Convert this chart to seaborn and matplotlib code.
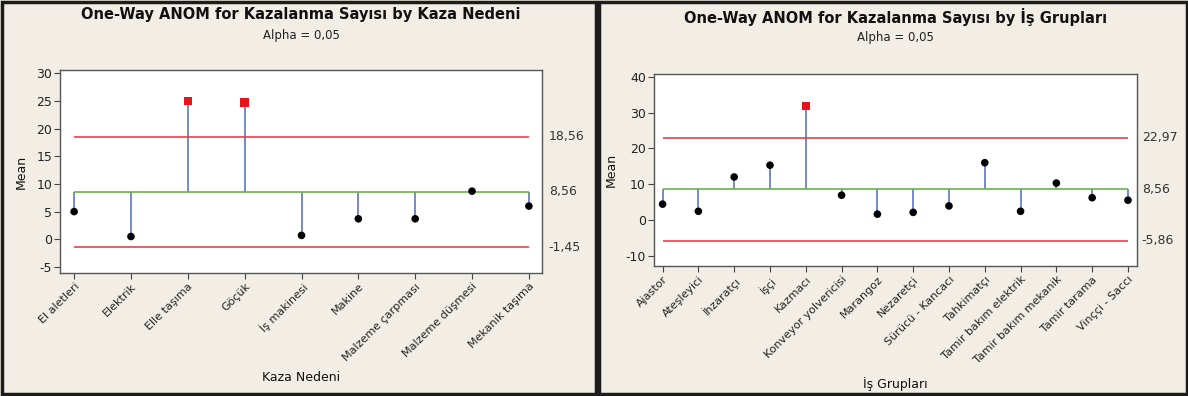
import matplotlib
matplotlib.use("Agg")
import matplotlib.pyplot as plt
from matplotlib.patches import Rectangle
import pandas as pd
import seaborn as sns

# veriler (grafikten okunan ortalamalar)
kaza_nedeni = ["El aletleri", "Elektrik", "Elle taşıma", "Göçük", "İş makinesi",
               "Makine", "Malzeme çarpması", "Malzeme düşmesi", "Mekanik taşıma"]
kaza_means = [5.0, 0.5, 25.0, 24.7, 0.7, 3.7, 3.7, 8.7, 6.0]
kaza_limits = [18.56, 8.56, -1.45]  # UDL, merkez, LDL
kaza_yticks = [-5, 0, 5, 10, 15, 20, 25, 30]

is_gruplari = ["Ajastor", "Ateşleyici", "İhzaratçı", "İşçi", "Kazmacı",
               "Konveyor yolvericisi", "Marangoz", "Nezaretçi", "Sürücü - Kancacı",
               "Tahkimatçı", "Tamir bakım elektrik", "Tamir bakım mekanik",
               "Tamir tarama", "Vinççi - Saccı"]
is_means = [4.4, 2.4, 12.0, 15.3, 31.8, 6.9, 1.6, 2.1, 3.9, 16.0, 2.4, 10.3, 6.2, 5.5]
is_limits = [22.97, 8.56, -5.86]
is_yticks = [-10, 0, 10, 20, 30, 40]

BG = "#f2eee6"
sns.set_style("white")
plt.rcParams["font.family"] = ["DejaVu Sans"]


def fmt(v):
    return f"{v:.2f}".replace(".", ",")


def draw_anom(ax, cats, means, limits, yticks, ylim, xpad, xlabel, lab_x, xpad_lab):
    udl, center, ldl = limits
    n = len(cats)
    df = pd.DataFrame({"pos": range(n), "mean": means})
    df["out"] = (df["mean"] > udl) | (df["mean"] < ldl)

    ax.hlines([udl, ldl], 0, n - 1, colors="#ec2f35", lw=1.1, zorder=2)
    ax.hlines(center, 0, n - 1, colors="#6cb24c", lw=1.2, zorder=2)
    ax.vlines(df["pos"], center, df["mean"], colors="#4f69c0", lw=1.1, zorder=1)

    sns.scatterplot(data=df[~df["out"]], x="pos", y="mean", color="black",
                    marker="o", s=30, edgecolor="none", ax=ax, zorder=3, legend=False)
    sns.scatterplot(data=df[df["out"]], x="pos", y="mean", color="#e8141c",
                    marker="s", s=36, edgecolor="none", ax=ax, zorder=3, legend=False)

    ax.set_xlim(-xpad[0], n - 1 + xpad[1])
    ax.set_ylim(*ylim)
    ax.set_yticks(yticks)
    ax.set_yticklabels([str(t) for t in yticks], fontsize=9)
    ax.set_xticks(range(n))
    ax.set_xticklabels(cats, rotation=45, ha="right", rotation_mode="anchor",
                       fontsize=8)
    ax.tick_params(axis="both", direction="out", length=4, width=0.8,
                   colors="#444444", left=True, bottom=True, pad=2)
    for lab in ax.get_xticklabels() + ax.get_yticklabels():
        lab.set_color("#222222")
    for sp in ax.spines.values():
        sp.set_color("#555555")
        sp.set_linewidth(1.0)
    ax.set_facecolor("white")
    ax.set_ylabel("Mean", fontsize=9, color="#111111", labelpad=6)
    ax.set_xlabel(xlabel, fontsize=9, color="#111111", labelpad=xpad_lab)

    tr = ax.get_yaxis_transform()
    for v in limits:
        ax.text(lab_x, v, fmt(v), transform=tr, fontsize=9, color="#333333",
                va="center", ha="left")


fig = plt.figure(figsize=(11.88, 3.96), dpi=100, facecolor=BG)

ax1 = fig.add_axes([0.0509, 0.3106, 0.4053, 0.5126])
ax2 = fig.add_axes([0.5508, 0.3283, 0.4059, 0.4848])

draw_anom(ax1, kaza_nedeni, kaza_means, kaza_limits, kaza_yticks, (-6.1, 30.6),
          (0.24, 0.23), "Kaza Nedeni", 1.014, 6)
draw_anom(ax2, is_gruplari, is_means, is_limits, is_yticks, (-12.9, 40.8),
          (0.23, 0.24), "İş Grupları", 1.011, 8)

fig.text(0.2534, 1 - 15 / 396, "One-Way ANOM for Kazalanma Sayısı by Kaza Nedeni",
         ha="center", va="center", fontsize=10.5, fontweight="bold", color="#111111")
fig.text(0.2534, 1 - 35 / 396, "Alpha = 0,05", ha="center", va="center",
         fontsize=8.5, color="#222222")
fig.text(0.7537, 1 - 17 / 396, "One-Way ANOM for Kazalanma Sayısı by İş Grupları",
         ha="center", va="center", fontsize=10.5, fontweight="bold", color="#111111")
fig.text(0.7537, 1 - 37 / 396, "Alpha = 0,05", ha="center", va="center",
         fontsize=8.5, color="#222222")

# panel çerçeveleri
W, H = 1188, 396
for x0, x1 in [(1.5, 596), (599, 1186.5)]:
    fig.patches.append(Rectangle((x0 / W, 2 / H), (x1 - x0) / W, (H - 3.5) / H,
                                 transform=fig.transFigure, fill=False,
                                 edgecolor="#1c1c1c", lw=2.5))

fig.savefig("out.png", dpi=100, facecolor=BG)
